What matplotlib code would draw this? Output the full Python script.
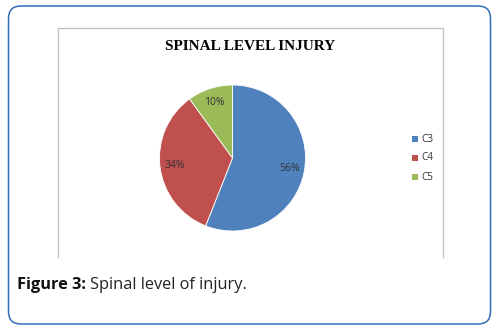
import matplotlib.pyplot as plt
from matplotlib.patches import FancyBboxPatch, Rectangle
from matplotlib.lines import Line2D

# data
levels = ['C3', 'C4', 'C5']
shares = [56, 34, 10]
colors = ['#4F81BD', '#C0504D', '#9BBB59']

W, H = 499, 333
fig = plt.figure(figsize=(W / 100, H / 100), dpi=100)
fig.patch.set_facecolor('white')


def fx(px):
    return px / W


def fy(py):
    return 1 - py / H


# outer rounded frame
frame = FancyBboxPatch((fx(8.5), fy(324)), fx(482), 318 / H,
                       boxstyle='round,pad=0,rounding_size=0.025',
                       transform=fig.transFigure, facecolor='white',
                       edgecolor='#2F6DB5', linewidth=1.1, mutation_aspect=W / H,
                       zorder=-5)
fig.patches.append(frame)

# inner chart box (no bottom edge)
box_col = '#BFBFBF'
for xs, ys in [([57.5, 57.5], [257, 27.5]), ([57.5, 442.5], [27.5, 27.5]),
               ([442.5, 442.5], [27.5, 257])]:
    fig.lines.append(Line2D([fx(x) for x in xs], [fy(y) for y in ys],
                            transform=fig.transFigure, color=box_col, lw=0.9))

fig.text(fx(250), fy(47), 'SPINAL LEVEL INJURY', ha='center', va='center',
         family='Liberation Serif', weight='bold', fontsize=11)

# pie
r = 73
ax = fig.add_axes([fx(232.5 - r), fy(158 + r), 2 * r / W, 2 * r / H])
ax.set_zorder(5)
ax.patch.set_alpha(0)
wedges, _, autotexts = ax.pie(shares, colors=colors, startangle=90, counterclock=False,
                              autopct='%d%%', pctdistance=0.8,
                              wedgeprops=dict(edgecolor='white', linewidth=0.6),
                              textprops=dict(family='Open Sans', fontsize=7.5, color='#333333'))
ax.set_aspect('equal')
ax.set_xlim(-1, 1)
ax.set_ylim(-1, 1)

# legend
for i, (lab, c) in enumerate(zip(levels, colors)):
    y = 139 + i * 19
    fig.patches.append(Rectangle((fx(412), fy(y + 3)), fx(6), 6 / H,
                                 transform=fig.transFigure, facecolor=c, edgecolor='none'))
    fig.text(fx(421), fy(y), lab, ha='left', va='center', family='Open Sans',
             fontsize=7.2, color='#333333')

# caption
t1 = fig.text(fx(17), fy(285), 'Figure 3:', ha='left', va='center', family='Open Sans',
              weight='bold', fontsize=11.8, color='#111111')
fig.canvas.draw()
bb = t1.get_window_extent()
fig.text(bb.x1 / W + fx(4), fy(285), 'Spinal level of injury.', ha='left', va='center',
         family='Open Sans', fontsize=11.8, color='#222222')

fig.savefig('out.png', dpi=100, facecolor='white')
